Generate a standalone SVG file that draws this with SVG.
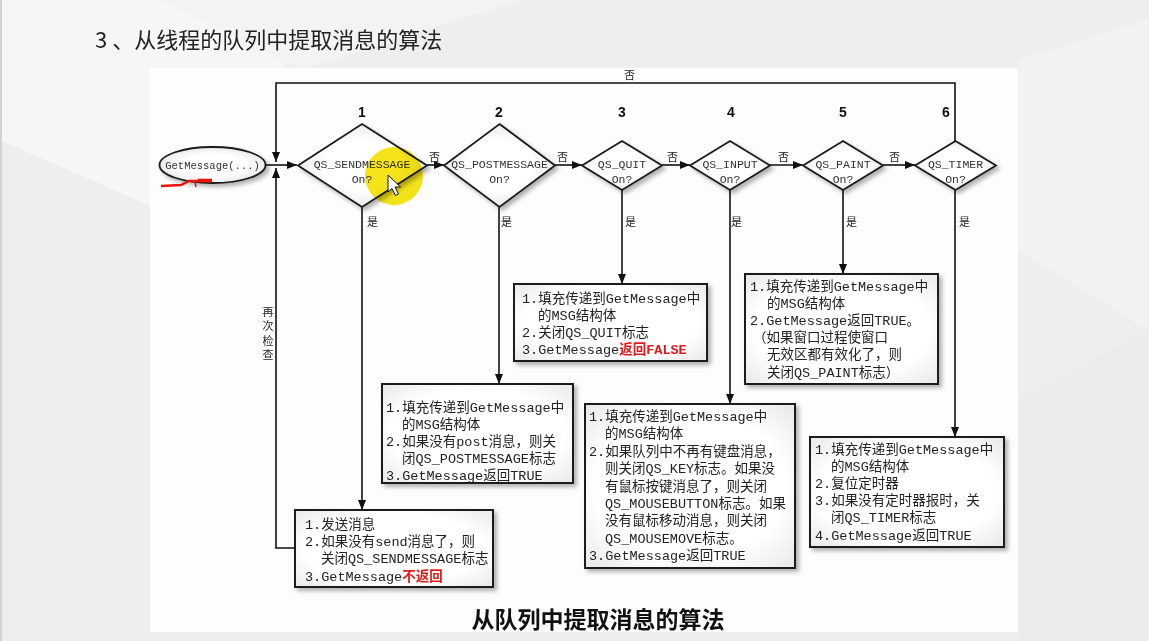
<svg xmlns="http://www.w3.org/2000/svg" width="1149" height="641" viewBox="0 0 1149 641">
<style>
.ln{stroke:#111;stroke-width:1.6;fill:none}
.box{fill:url(#bgr);stroke:#1a1a1a;stroke-width:2;filter:url(#sh)}
.dia{fill:url(#dgr);stroke:#1a1a1a;stroke-width:1.8;filter:url(#sh)}
.bt{font-family:"Liberation Mono","Noto Sans CJK SC",monospace;font-size:13.5px;fill:#222}
.dt{font-family:"Liberation Mono","Noto Sans CJK SC",monospace;font-size:11.5px;fill:#333;text-anchor:middle}
.et{font-family:"Liberation Mono",monospace;font-size:10.5px;fill:#333;text-anchor:middle}
.lb{font-family:"Noto Sans CJK SC",sans-serif;font-size:11px;fill:#222}
.num{font-family:"Liberation Sans",sans-serif;font-weight:bold;font-size:14px;fill:#111;text-anchor:middle}
.red{fill:#e01b1b;font-weight:bold}
</style>
<defs>
<marker id="ah" markerUnits="userSpaceOnUse" markerWidth="10" markerHeight="8" refX="10" refY="4" orient="auto">
<path d="M0,0 L10,4 L0,8 z" fill="#111"/>
</marker>
<radialGradient id="bgr" cx="0.5" cy="0.5" r="0.75">
<stop offset="0.6" stop-color="#ffffff"/>
<stop offset="1" stop-color="#e4e4e4"/>
</radialGradient>
<radialGradient id="dgr" cx="0.5" cy="0.5" r="0.6">
<stop offset="0.5" stop-color="#ffffff"/>
<stop offset="1" stop-color="#e0e0e0"/>
</radialGradient>
<filter id="sh" x="-10%" y="-10%" width="130%" height="130%">
<feDropShadow dx="3" dy="3" stdDeviation="2" flood-color="#000" flood-opacity="0.3"/>
</filter>
</defs>

<g id="background">
<rect x="0" y="0" width="1149" height="641" fill="#eeeeee"/>
<polygon points="0,0 340,0 160,210 0,140" fill="#f6f6f6"/>
<polygon points="160,0 520,0 300,70" fill="#f3f3f3"/>
<polygon points="1018,60 1149,20 1149,330 1018,250" fill="#f2f2f2"/>
<polygon points="1018,400 1149,330 1149,641 1018,641" fill="#ececec"/>
<line x1="1" y1="0" x2="1" y2="641" stroke="#d2d2d2" stroke-width="2"/>
<rect x="150" y="68" width="868" height="564" fill="#fdfdfd"/>
</g>

<g id="title">
<text x="95" y="48" font-family="Noto Sans CJK SC, sans-serif" font-size="22" fill="#222">3<tspan dx="5">、从线程的队列中提取消息的算法</tspan></text>
</g>

<g id="connectors">
<path class="ln" d="M266,165 H297" marker-end="url(#ah)"/>
<path class="ln" d="M427,165 H444" marker-end="url(#ah)"/>
<path class="ln" d="M555,165 H582" marker-end="url(#ah)"/>
<path class="ln" d="M662,165 H690" marker-end="url(#ah)"/>
<path class="ln" d="M770,165 H803" marker-end="url(#ah)"/>
<path class="ln" d="M883,165 H915" marker-end="url(#ah)"/>
<path class="ln" d="M955,141 V83 H276 V162" marker-end="url(#ah)"/>
<path class="ln" d="M295,548 H276 V168" marker-end="url(#ah)"/>
<path class="ln" d="M362,207 V510" marker-end="url(#ah)"/>
<path class="ln" d="M499,207 V384" marker-end="url(#ah)"/>
<path class="ln" d="M622,190 V284" marker-end="url(#ah)"/>
<path class="ln" d="M730,190 V404" marker-end="url(#ah)"/>
<path class="ln" d="M843,190 V274" marker-end="url(#ah)"/>
<path class="ln" d="M955,190 V437" marker-end="url(#ah)"/>
<text class="lb" x="624" y="79">否</text>
<text class="lb" x="429" y="161">否</text>
<text class="lb" x="557" y="161">否</text>
<text class="lb" x="667" y="161">否</text>
<text class="lb" x="778" y="161">否</text>
<text class="lb" x="889" y="161">否</text>
<text class="lb" x="367" y="226">是</text>
<text class="lb" x="501" y="226">是</text>
<text class="lb" x="625" y="226">是</text>
<text class="lb" x="731" y="226">是</text>
<text class="lb" x="846" y="226">是</text>
<text class="lb" x="959" y="226">是</text>
<text class="lb" x="268" text-anchor="middle"><tspan x="268" y="316">再</tspan><tspan x="268" y="330">次</tspan><tspan x="268" y="345">检</tspan><tspan x="268" y="359">查</tspan></text>
</g>

<g id="start">
<ellipse cx="212.5" cy="165" rx="53" ry="18" fill="url(#dgr)" stroke="#1a1a1a" stroke-width="1.8" filter="url(#sh)"/>
<text class="et" x="212.5" y="169">GetMessage(...)</text>
</g>

<g id="d1">
<polygon class="dia" points="362,124 427,165.5 362,207 298,165.5"/>
<text class="num" x="362" y="117">1</text>
<text class="dt" x="362" y="168">QS_SENDMESSAGE</text>
<text class="dt" x="362" y="183">On?</text>
</g>
<g id="d2">
<polygon class="dia" points="499.5,124 555,165.5 499.5,207 444,165.5"/>
<text class="num" x="499" y="117">2</text>
<text class="dt" x="499.5" y="168">QS_POSTMESSAGE</text>
<text class="dt" x="499.5" y="183">On?</text>
</g>
<g id="d3">
<polygon class="dia" points="622,141 662,165.5 622,190 582,165.5"/>
<text class="num" x="622" y="117">3</text>
<text class="dt" x="622" y="168">QS_QUIT</text>
<text class="dt" x="622" y="183">On?</text>
</g>
<g id="d4">
<polygon class="dia" points="730,141 770,165.5 730,190 690,165.5"/>
<text class="num" x="731" y="117">4</text>
<text class="dt" x="730" y="168">QS_INPUT</text>
<text class="dt" x="730" y="183">On?</text>
</g>
<g id="d5">
<polygon class="dia" points="843,141 883,165.5 843,190 803,165.5"/>
<text class="num" x="843" y="117">5</text>
<text class="dt" x="843" y="168">QS_PAINT</text>
<text class="dt" x="843" y="183">On?</text>
</g>
<g id="d6">
<polygon class="dia" points="955.5,141 996,165.5 955.5,190 915,165.5"/>
<text class="num" x="946" y="117">6</text>
<text class="dt" x="955.5" y="168">QS_TIMER</text>
<text class="dt" x="955.5" y="183">On?</text>
</g>

<g id="b1">
<rect class="box" x="295" y="510" width="198" height="77"/>
<text class="bt" x="305" y="528.5">1.发送消息</text>
<text class="bt" x="305" y="545.5">2.如果没有send消息了，则</text>
<text class="bt" x="321" y="562.5">关闭QS_SENDMESSAGE标志</text>
<text class="bt" x="305" y="581">3.GetMessage<tspan class="red">不返回</tspan></text>
</g>

<g id="b2">
<rect class="box" x="382" y="384" width="191" height="99"/>
<text class="bt" x="386" y="412">1.填充传递到GetMessage中</text>
<text class="bt" x="402" y="429">的MSG结构体</text>
<text class="bt" x="386" y="446">2.如果没有post消息，则关</text>
<text class="bt" x="402" y="463">闭QS_POSTMESSAGE标志</text>
<text class="bt" x="386" y="480">3.GetMessage返回TRUE</text>
</g>

<g id="b3">
<rect class="box" x="514" y="284" width="193" height="77"/>
<text class="bt" x="522" y="302.5">1.填充传递到GetMessage中</text>
<text class="bt" x="538" y="319.5">的MSG结构体</text>
<text class="bt" x="522" y="336.5">2.关闭QS_QUIT标志</text>
<text class="bt" x="522" y="354">3.GetMessage<tspan class="red">返回FALSE</tspan></text>
</g>

<g id="b4">
<rect class="box" x="585" y="404" width="210" height="164"/>
<text class="bt" x="589" y="421">1.填充传递到GetMessage中</text>
<text class="bt" x="605" y="438.4">的MSG结构体</text>
<text class="bt" x="589" y="455.8">2.如果队列中不再有键盘消息，</text>
<text class="bt" x="605" y="473.2">则关闭QS_KEY标志。如果没</text>
<text class="bt" x="605" y="490.6">有鼠标按键消息了，则关闭</text>
<text class="bt" x="605" y="508">QS_MOUSEBUTTON标志。如果</text>
<text class="bt" x="605" y="525.4">没有鼠标移动消息，则关闭</text>
<text class="bt" x="605" y="542.8">QS_MOUSEMOVE标志。</text>
<text class="bt" x="589" y="560.2">3.GetMessage返回TRUE</text>
</g>

<g id="b5">
<rect class="box" x="745" y="274" width="193" height="110"/>
<text class="bt" x="750" y="290.5">1.填充传递到GetMessage中</text>
<text class="bt" x="767" y="307.7">的MSG结构体</text>
<text class="bt" x="750" y="324.9">2.GetMessage返回TRUE。</text>
<text class="bt" x="753" y="342.1">（如果窗口过程使窗口</text>
<text class="bt" x="767" y="359.3">无效区都有效化了，则</text>
<text class="bt" x="767" y="376.5">关闭QS_PAINT标志）</text>
</g>

<g id="b6">
<rect class="box" x="810" y="437" width="194" height="110"/>
<text class="bt" x="815" y="453.5">1.填充传递到GetMessage中</text>
<text class="bt" x="831" y="470.7">的MSG结构体</text>
<text class="bt" x="815" y="487.9">2.复位定时器</text>
<text class="bt" x="815" y="505.1">3.如果没有定时器报时，关</text>
<text class="bt" x="831" y="522.3">闭QS_TIMER标志</text>
<text class="bt" x="815" y="539.5">4.GetMessage返回TRUE</text>
</g>

<g id="caption">
<text x="598" y="628" text-anchor="middle" font-family="Noto Sans CJK SC, sans-serif" font-size="23" font-weight="bold" fill="#111">从队列中提取消息的算法</text>
</g>

<g id="annotations">
<circle cx="394" cy="176" r="29" fill="#f4e000" style="mix-blend-mode:multiply" opacity="0.9"/>
<path d="M161,186 L181,185 L189,181 L212,181" fill="none" stroke="#e8140f" stroke-width="2.5"/>
<path d="M198,180.5 H212" stroke="#e8140f" stroke-width="3.5"/>
<path d="M195,182 L196,187" stroke="#e8140f" stroke-width="1.5"/>
<polygon points="388,175 388,192 392,188.5 395.5,195.5 398.5,194 395,187 400.5,187" fill="#fff" stroke="#111" stroke-width="1"/>
</g>
</svg>
